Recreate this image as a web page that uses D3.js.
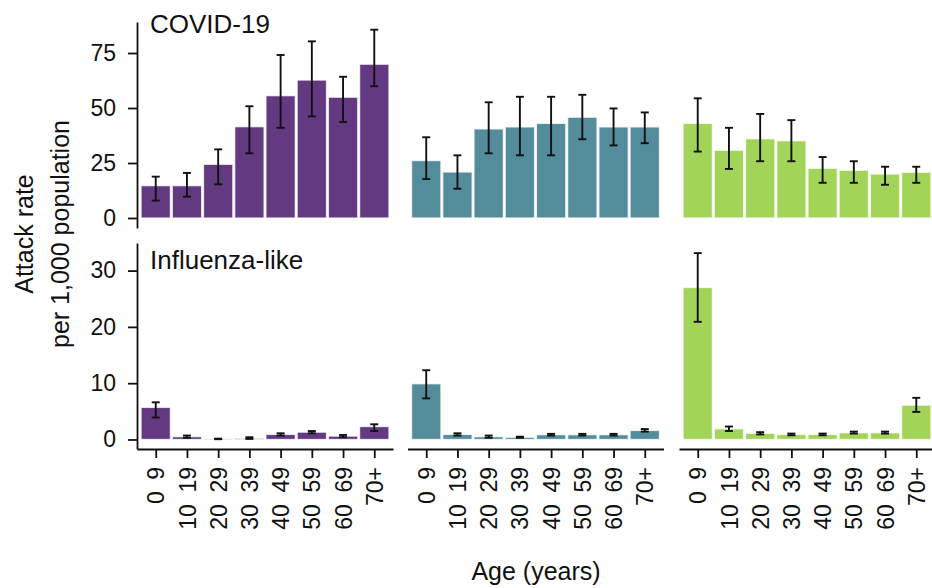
<!DOCTYPE html>
<html>
<head>
<meta charset="utf-8">
<script src="https://cdn.jsdelivr.net/npm/d3@7"></script>
<style>
  html, body { margin: 0; padding: 0; background: #fff; }
  svg { display: block; }
  text { font-family: "Liberation Sans", Arial, Helvetica, sans-serif; fill: #111; }
</style>
</head>
<body>
<script>
// Age groups on the x axis (one bar per group in each column)
const ages = ["0\u20029", "10\u200219", "20\u200229", "30\u200239", "40\u200249", "50\u200259", "60\u200269", "70+"];

// Three columns of panels, one colour each
const columns = ["c1", "c2", "c3"];
const columnColors = ["#633a82", "#538c9b", "#a3d45a"];

// Row labels
const rowLabels = ["COVID-19", "Influenza-like"];

// COVID-19 attack rate per 1,000 population, with interval bounds
const covidRate = [
  [14.7, 14.7, 24.4, 41.5, 55.6, 62.7, 54.9, 69.9],
  [26.1, 20.9, 40.5, 41.4, 43.0, 45.8, 41.4, 41.4],
  [43.0, 30.8, 36.0, 35.1, 22.6, 21.7, 20.0, 20.8]
];
const covidLow = [
  [7.9, 9.7, 15.3, 29.4, 41.0, 46.2, 43.6, 59.9],
  [17.7, 13.3, 29.4, 28.5, 28.5, 35.8, 33.0, 34.0],
  [30.2, 22.3, 25.8, 25.8, 16.0, 16.0, 15.1, 16.0]
];
const covidHigh = [
  [18.8, 20.5, 31.2, 50.8, 74.1, 80.3, 64.2, 85.6],
  [36.7, 28.5, 52.6, 55.1, 55.1, 56.0, 49.8, 48.0],
  [54.4, 41.0, 47.3, 44.5, 27.7, 25.8, 23.3, 23.3]
];

// Influenza-like illness attack rate per 1,000 population, with interval bounds
const iliRate = [
  [5.7, 0.5, 0.1, 0.2, 0.9, 1.3, 0.6, 2.3],
  [9.9, 0.9, 0.5, 0.4, 0.85, 0.85, 0.85, 1.6],
  [27.0, 1.9, 1.1, 0.9, 0.9, 1.2, 1.2, 6.1]
];
const iliLow = [
  [3.9, 0.3, 0.05, 0.1, 0.7, 1.1, 0.4, 1.5],
  [7.3, 0.7, 0.3, 0.3, 0.7, 0.7, 0.7, 1.4],
  [20.9, 1.5, 0.9, 0.75, 0.75, 1.05, 1.05, 4.9]
];
const iliHigh = [
  [6.6, 0.7, 0.15, 0.4, 1.1, 1.5, 0.8, 2.7],
  [12.3, 1.1, 0.7, 0.5, 1.0, 1.0, 1.0, 1.85],
  [33.1, 2.3, 1.3, 1.05, 1.05, 1.4, 1.4, 7.4]
];

// Tick values for each row
const covidTicks = [0, 25, 50, 75];
const iliTicks = [0, 10, 20, 30];

const W = 932, H = 588;
const svg = d3.select("body").append("svg").attr("width", W).attr("height", H);

// Layout
const colX = [137, 407.5, 679];
const colW = 256;

const rows = [
  { label: rowLabels[0], rate: covidRate, low: covidLow, high: covidHigh, ticks: covidTicks,
    y: d3.scaleLinear().domain([-4.55, 89.1]).range([228, 22]), xAxis: false, labelY: 33 },
  { label: rowLabels[1], rate: iliRate, low: iliLow, high: iliHigh, ticks: iliTicks,
    y: d3.scaleLinear().domain([-1.69, 34.9]).range([449, 243]), xAxis: true, labelY: 269 }
];

const x = d3.scalePoint().domain(ages).range([0, colW]).padding(0.6);
const barW = x.step() * 0.94;

rows.forEach((row, ri) => {
  columns.forEach((col, ci) => {
    const g = svg.append("g").attr("transform", `translate(${colX[ci]},0)`);
    const data = ages.map((a, i) => ({
      age: a, v: row.rate[ci][i], lo: row.low[ci][i], hi: row.high[ci][i]
    }));

    // Bars
    g.selectAll("rect.bar").data(data).join("rect")
      .attr("class", "bar")
      .attr("x", d => x(d.age) - barW / 2)
      .attr("width", barW)
      .attr("y", d => row.y(d.v))
      .attr("height", d => row.y(0) - row.y(d.v))
      .attr("fill", columnColors[ci])
      .attr("stroke", "#ffffff")
      .attr("stroke-opacity", 0.75)
      .attr("stroke-width", 1.3);

    // Interval bars
    const cap = 4;
    const eb = g.selectAll("g.err").data(data).join("g").attr("class", "err")
      .attr("stroke", "#111").attr("stroke-width", 1.9).attr("fill", "none");
    eb.append("line")
      .attr("x1", d => x(d.age)).attr("x2", d => x(d.age))
      .attr("y1", d => row.y(d.lo)).attr("y2", d => row.y(d.hi));
    eb.append("line")
      .attr("x1", d => x(d.age) - cap).attr("x2", d => x(d.age) + cap)
      .attr("y1", d => row.y(d.lo)).attr("y2", d => row.y(d.lo));
    eb.append("line")
      .attr("x1", d => x(d.age) - cap).attr("x2", d => x(d.age) + cap)
      .attr("y1", d => row.y(d.hi)).attr("y2", d => row.y(d.hi));

    // Left axis only on the first column
    if (ci === 0) {
      const ya = d3.axisLeft(row.y).tickValues(row.ticks).tickSize(9).tickPadding(12)
        .tickSizeOuter(0);
      const ag = g.append("g").call(ya);
      ag.select(".domain").attr("stroke", "#111").attr("stroke-width", 1.8);
      ag.selectAll(".tick line").attr("stroke", "#111").attr("stroke-width", 1.8);
      ag.selectAll(".tick text").attr("font-size", 23)
        .attr("font-family", "Liberation Sans, Arial, sans-serif").attr("fill", "#111");

      g.append("text")
        .attr("x", 13).attr("y", row.labelY)
        .attr("font-size", 26)
        .text(row.label);
    }

    // Bottom axis for the lower row
    if (row.xAxis) {
      const xa = d3.axisBottom(x).tickSize(9).tickPadding(10).tickSizeOuter(0);
      const xg = g.append("g").attr("transform", `translate(0,${row.y.range()[0]})`).call(xa);
      xg.select(".domain").attr("stroke", "#111").attr("stroke-width", 1.8);
      xg.selectAll(".tick line").attr("stroke", "#111").attr("stroke-width", 1.8);
      xg.selectAll(".tick text")
        .attr("font-size", 23)
        .attr("font-family", "Liberation Sans, Arial, sans-serif").attr("fill", "#111")
        .attr("transform", "rotate(-90)")
        .attr("text-anchor", "end")
        .attr("x", -18).attr("y", 0).attr("dy", "0.35em");
    }
  });
});

// Axis titles
svg.append("text")
  .attr("transform", "translate(24,234) rotate(-90)")
  .attr("text-anchor", "middle")
  .attr("dy", "0.35em")
  .attr("font-size", 25)
  .text("Attack rate");
svg.append("text")
  .attr("transform", "translate(60,234) rotate(-90)")
  .attr("text-anchor", "middle")
  .attr("dy", "0.35em")
  .attr("font-size", 25)
  .text("per 1,000 population");

svg.append("text")
  .attr("x", 536).attr("y", 580)
  .attr("text-anchor", "middle")
  .attr("font-size", 25)
  .text("Age (years)");
</script>
</body>
</html>
